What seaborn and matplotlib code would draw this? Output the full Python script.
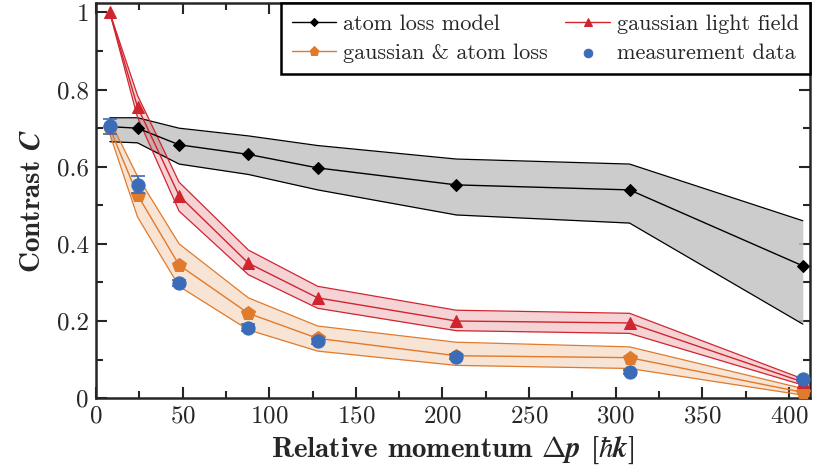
import matplotlib
matplotlib.use('Agg')
import matplotlib.pyplot as plt
import seaborn as sns
from matplotlib.ticker import MultipleLocator

# momentum steps [hbar k]
momentum = [8, 24, 48, 88, 128, 208, 308, 408]

# atom loss model
atom_loss = [0.704, 0.700, 0.657, 0.632, 0.597, 0.553, 0.540, 0.343]
atom_loss_hi = [0.727, 0.727, 0.700, 0.680, 0.655, 0.620, 0.607, 0.460]
atom_loss_lo = [0.665, 0.662, 0.607, 0.580, 0.540, 0.475, 0.454, 0.192]

# gaussian light field
gauss_light = [1.000, 0.755, 0.525, 0.350, 0.260, 0.200, 0.195, 0.042]
gauss_light_hi = [1.000, 0.785, 0.560, 0.384, 0.290, 0.228, 0.220, 0.050]
gauss_light_lo = [1.000, 0.728, 0.485, 0.320, 0.233, 0.175, 0.168, 0.034]

# gaussian & atom loss
gauss_atom = [0.700, 0.527, 0.345, 0.220, 0.155, 0.110, 0.105, 0.015]
gauss_atom_hi = [0.720, 0.575, 0.400, 0.260, 0.187, 0.145, 0.133, 0.025]
gauss_atom_lo = [0.685, 0.470, 0.290, 0.177, 0.122, 0.085, 0.077, 0.008]

# measurement
meas = [0.705, 0.553, 0.298, 0.183, 0.147, 0.108, 0.068, 0.050]
meas_err = [0.020, 0.022, 0.008, 0.008, 0.006, 0.006, 0.006, 0.006]

BLACK = '#000000'
RED = '#d0252e'
ORANGE = '#e07a2c'
BLUE = '#3b6cb7'

sns.set_style('ticks')
plt.rcParams['font.family'] = ['cmr10', 'DejaVu Serif']
plt.rcParams['mathtext.fontset'] = 'cm'
plt.rcParams['axes.formatter.use_mathtext'] = True
plt.rcParams['axes.unicode_minus'] = False

fig = plt.figure(figsize=(8.13, 4.74), dpi=100)
ax = fig.add_axes([0.118, 0.160, 0.878, 0.834])

# bands
ax.fill_between(momentum, atom_loss_lo, atom_loss_hi, color='#c4c4c4', alpha=0.85, lw=0, zorder=1)
ax.fill_between(momentum, gauss_light_lo, gauss_light_hi, color=RED, alpha=0.2, lw=0, zorder=2)
ax.fill_between(momentum, gauss_atom_lo, gauss_atom_hi, color=ORANGE, alpha=0.2, lw=0, zorder=2)
for lo, hi, c in [(atom_loss_lo, atom_loss_hi, BLACK),
                  (gauss_light_lo, gauss_light_hi, RED),
                  (gauss_atom_lo, gauss_atom_hi, ORANGE)]:
    ax.plot(momentum, lo, color=c, lw=0.9, zorder=3)
    ax.plot(momentum, hi, color=c, lw=0.9, zorder=3)

# center lines with markers
sns.lineplot(x=momentum, y=atom_loss, ax=ax, color=BLACK, marker='D', markersize=6.5,
             markeredgecolor=BLACK, lw=1.0, label='atom loss model', zorder=4)
sns.lineplot(x=momentum, y=gauss_atom, ax=ax, color=ORANGE, marker='p', markersize=10,
             markeredgecolor=ORANGE, lw=1.0, label='gaussian & atom loss', zorder=4)
sns.lineplot(x=momentum, y=gauss_light, ax=ax, color=RED, marker='^', markersize=8,
             markeredgecolor=RED, lw=1.0, label='gaussian light field', zorder=4)
ax.errorbar(momentum, meas, yerr=meas_err, fmt='none', ecolor=BLUE, elinewidth=1.2,
            capsize=5, capthick=1.2, zorder=5)
sns.scatterplot(x=momentum, y=meas, ax=ax, color=BLUE, s=90, edgecolor=BLUE,
                label='measurement data', zorder=6)

ax.set_xlim(0, 412)
ax.set_ylim(0, 1.025)
ax.xaxis.set_major_locator(MultipleLocator(50))
ax.xaxis.set_minor_locator(MultipleLocator(25))
ax.yaxis.set_minor_locator(MultipleLocator(0.1))
ax.set_yticks([0, 0.2, 0.4, 0.6, 0.8, 1.0])
ax.set_yticklabels(['0', '0.2', '0.4', '0.6', '0.8', '1'])
ax.tick_params(which='both', direction='in', top=True, right=True, width=1.5, labelsize=18)
ax.tick_params(which='major', length=8, pad=5)
ax.tick_params(which='minor', length=5)
for s in ax.spines.values():
    s.set_linewidth(1.8)
    s.set_visible(True)

ax.set_xlabel(r'Relative momentum $\boldsymbol{\Delta p}$ [$\hbar\boldsymbol{k}$]',
              fontsize=21, family='cmb10', labelpad=5)
ax.set_ylabel(r'Contrast $\boldsymbol{C}$', fontsize=21, family='cmb10', labelpad=8)

leg = ax.legend(loc='upper right', ncol=2, fontsize=16, frameon=True, fancybox=False,
                edgecolor='black', framealpha=1, borderaxespad=0, columnspacing=0.8,
                handlelength=2.0, borderpad=0.5, labelspacing=0.45, handletextpad=0.3,
                markerscale=0.65)
leg.get_frame().set_linewidth(1.8)

fig.savefig('out.png', dpi=100)
